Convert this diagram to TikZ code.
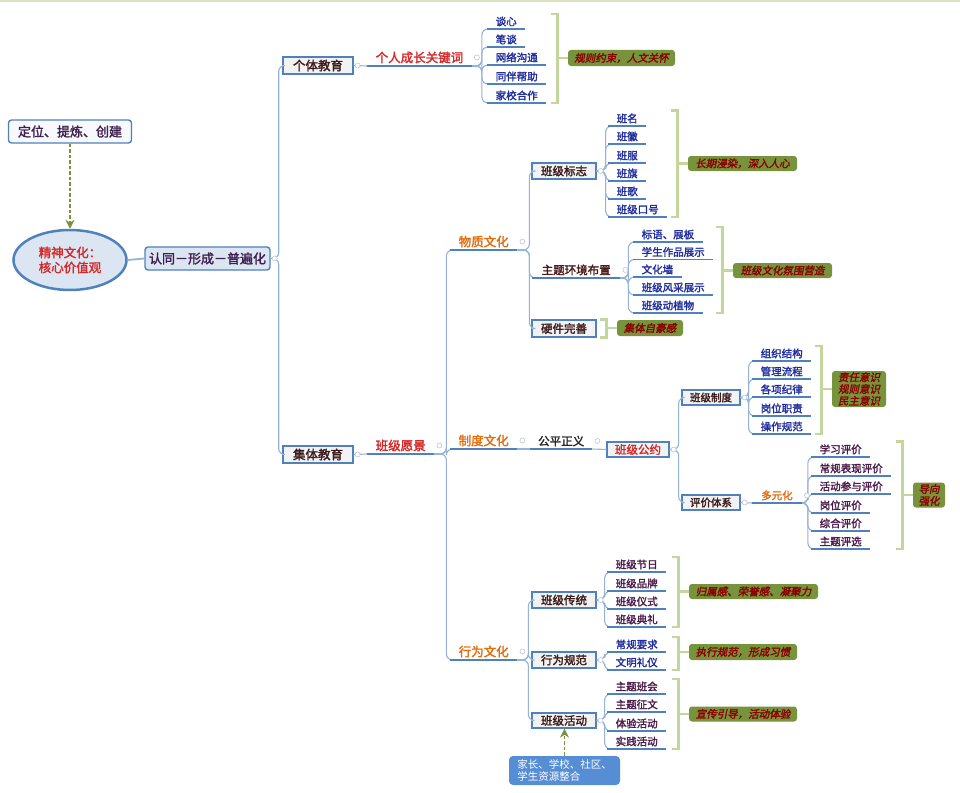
\documentclass[tikz,border=0pt]{standalone}
\usepackage{fontspec}
\setmainfont{Noto Sans CJK SC}[BoldFont={Noto Sans CJK SC},BoldFeatures={FakeBold=2},ItalicFont={Noto Sans CJK SC},ItalicFeatures={FakeSlant=0.2},BoldItalicFont={Noto Sans CJK SC},BoldItalicFeatures={FakeBold=2,FakeSlant=0.2}]
\usetikzlibrary{calc,shapes.geometric,arrows.meta}
\definecolor{boxc}{HTML}{4F81BD}
\definecolor{boxf}{HTML}{F2F2F2}
\definecolor{boxt}{HTML}{3B1A1A}
\definecolor{brc}{HTML}{95B3D7}
\definecolor{ulc}{HTML}{4F81BD}
\definecolor{brkc}{HTML}{C3D69B}
\definecolor{sumf}{HTML}{77933C}
\definecolor{sumt}{HTML}{8B0000}
\definecolor{redc}{HTML}{D62828}
\definecolor{orng}{HTML}{E46C0A}
\definecolor{blu}{HTML}{1F2D9E}
\definecolor{pur}{HTML}{4B1C4B}
\definecolor{marc}{HTML}{4A1A1A}
\definecolor{ellc}{HTML}{4F81BD}
\definecolor{ellf}{HTML}{DCE6F2}
\definecolor{lboxf}{HTML}{F7F9FC}
\definecolor{idnf}{HTML}{DCE6F2}
\definecolor{txtp}{HTML}{3F1F4F}
\definecolor{hintc}{HTML}{77933C}
\definecolor{jzc}{HTML}{558ED5}
\definecolor{topl}{HTML}{D7E4BD}
\definecolor{mkc}{HTML}{BFC7D5}
\newcommand{\fsz}[1]{\fontsize{#1}{13}\selectfont}
\newcommand{\drawbkt}[4]{%
  \coordinate (#1) at ($(#2.west)+(-10.5,0)$);
  \draw[brk] (#1 |- #3.north) ++(-6,0) -- (#1 |- #3.north) -- (#1 |- #4.south) -- ++(-6,0);
  \draw[brk] (#1) -- (#2.west);}
\begin{document}
\begin{tikzpicture}[x=1pt,y=-1pt,
  topic/.style={draw=boxc, line width=1.3pt, fill=boxf, inner sep=0pt, text=boxt, font=\fsz{11.5}\bfseries},
  lbox/.style={draw=boxc, line width=1.4pt, rounded corners=3pt, inner sep=0pt, text=txtp, font=\fsz{13}\bfseries},
  ul/.style={anchor=south west, inner xsep=8.5pt, inner ysep=2.5pt},
  hdr/.style={ul, font=\fsz{12.5}\bfseries},
  leafb/.style={ul, font=\fsz{10.5}\bfseries, text=blu},
  leafp/.style={ul, font=\fsz{10.5}\bfseries, text=pur},
  summ/.style={fill=sumf, rounded corners=3pt, text=sumt, font=\fsz{10.5}\bfseries\itshape, inner sep=0pt, align=center},
  br/.style={draw=brc, line width=1.1pt, rounded corners=6pt},
  ulst/.style={draw=ulc, line width=1.6pt},
  brk/.style={draw=brkc, line width=2.8pt},
  mk/.style={draw=mkc, fill=white, line width=0.6pt},
  hint/.style={draw=hintc, line width=1.6pt, dash pattern=on 3.5pt off 2pt, -{Stealth[length=9pt,width=9pt]}}
]
\fill[white] (0,0) rectangle (960,792);
\useasboundingbox (0,0) rectangle (960,792);
\draw[topl, line width=2pt] (0,1) -- (960,1);

% left column
\node[lbox, fill=lboxf, minimum width=123pt, minimum height=23pt] (pos) at (70,131.5) {定位、提炼、创建};
\node[ellipse, draw=ellc, line width=2.5pt, fill=ellf, inner sep=0pt, minimum width=113pt, minimum height=60pt, align=center, text=redc, font=\fontsize{12.5}{15}\selectfont\bfseries] (root) at (70,260) {精神文化：\\核心价值观};
\node[lbox, fill=idnf, minimum width=125pt, minimum height=23pt] (idn) at (207.5,258.5) {认同－形成－普遍化};
\draw[hint] (pos.south) -- (root.north);
\draw[brc, line width=1.8pt] (root.east) -- (idn.west);

% main boxes
\node[topic, font=\fsz{12.5}\bfseries, minimum width=70pt, minimum height=17pt] (geti) at (318,65.5) {个体教育};
\node[topic, font=\fsz{12.5}\bfseries, minimum width=70pt, minimum height=17pt] (jiti) at (318,454.5) {集体教育};
\draw[br] (idn.east) -- ++(8,0) |- (geti.west);
\draw[br] (idn.east) -- ++(8,0) |- (jiti.west);

% individual education
\node[hdr, text=redc] (kw) at (367,66) {个人成长关键词};
\node[leafb] (k1) at (487,29) {谈心};
\node[leafb] (k2) at (487,47) {笔谈};
\node[leafb] (k3) at (487,65) {网络沟通};
\node[leafb] (k4) at (487,84) {同伴帮助};
\node[leafb] (k5) at (487,103) {家校合作};
\node[summ, minimum width=107pt, minimum height=16pt] (s1) at (621.5,58) {规则约束，人文关怀};
\draw[br] (geti.east) -- (kw.south west);
\foreach \c in {k1,k2,k3,k4,k5} \draw[br] (kw.south east) -- ++(10,0) |- (\c.south west);
\drawbkt{q1}{s1}{k1}{k5}

% collective education
\node[hdr, text=redc] (yj) at (367,454) {班级愿景};
\node[hdr, text=orng] (wz) at (450,250) {物质文化};
\node[hdr, text=orng] (zd) at (450,449) {制度文化};
\node[hdr, text=orng] (xw) at (450,660) {行为文化};
\draw[br] (jiti.east) -- (yj.south west);
\foreach \c in {wz,zd,xw} \draw[br] (yj.south east) -- ++(12,0) |- (\c.south west);

% material culture
\node[topic, minimum width=64pt, minimum height=16pt] (bz) at (564,171) {班级标志};
\node[ul, font=\fsz{11.5}\bfseries, text=marc, inner xsep=9.5pt] (zt) at (532,278) {主题环境布置};
\node[topic, minimum width=64pt, minimum height=17pt] (yjw) at (564,328.5) {硬件完善};
\draw[br] (wz.south east) -- ++(12,0) |- (bz.west);
\draw[br] (wz.south east) -- ++(12,0) |- (zt.south west);
\draw[br] (wz.south east) -- ++(12,0) |- (yjw.west);

\node[leafb] (b1) at (608,126) {班名};
\node[leafb] (b2) at (608,144) {班徽};
\node[leafb] (b3) at (608,163) {班服};
\node[leafb] (b4) at (608,181) {班旗};
\node[leafb] (b5) at (608,199) {班歌};
\node[leafb] (b6) at (608,217) {班级口号};
\foreach \c in {b1,b2,b3,b4,b5,b6} \draw[br] (bz.east) -- ++(9,0) |- (\c.south west);
\node[summ, minimum width=109pt, minimum height=15pt] (s2) at (742.5,163.5) {长期浸染，深入人心};
\drawbkt{q2}{s2}{b1}{b6}

\node[leafb] (h1) at (633,242) {标语、展板};
\node[leafb] (h2) at (633,259.5) {学生作品展示};
\node[leafb] (h3) at (633,277) {文化墙};
\node[leafb] (h4) at (633,295) {班级风采展示};
\node[leafb] (h5) at (633,313) {班级动植物};
\foreach \c in {h1,h2,h3,h4,h5} \draw[br] (zt.south east) -- ++(8,0) |- (\c.south west);
\node[summ, minimum width=99pt, minimum height=15pt] (s3) at (782.5,270.5) {班级文化氛围营造};
\drawbkt{q3}{s3}{h1}{h5}

\node[summ, minimum width=66pt, minimum height=16pt] (s4) at (650,328) {集体自豪感};
\drawbkt{q4}{s4}{yjw}{yjw}

% institutional culture
\node[ul, font=\fsz{11.5}\bfseries, text=black!85, inner xsep=8pt] (gp) at (530,449) {公平正义};
\node[topic, text=redc, minimum width=62pt, minimum height=15pt] (gy) at (638,449.5) {班级公约};
\draw[br] (zd.south east) -- (gp.south west);
\draw[br] (gp.south east) -- (gy.west);
\node[topic, font=\fsz{10.5}\bfseries, minimum width=58pt, minimum height=15pt] (zdb) at (711,397.5) {班级制度};
\node[topic, font=\fsz{10.5}\bfseries, minimum width=58pt, minimum height=15pt] (pj) at (711,502.5) {评价体系};
\draw[br] (gy.east) -- ++(9,0) |- (zdb.west);
\draw[br] (gy.east) -- ++(9,0) |- (pj.west);

\node[leafb] (z1) at (752,361) {组织结构};
\node[leafb] (z2) at (752,379) {管理流程};
\node[leafb] (z3) at (752,397) {各项纪律};
\node[leafb] (z4) at (752,416) {岗位职责};
\node[leafb] (z5) at (752,434) {操作规范};
\foreach \c in {z1,z2,z3,z4,z5} \draw[br] (zdb.east) -- ++(8,0) |- (\c.south west);
\node[summ, font=\fontsize{10.5}{11.8}\selectfont\bfseries\itshape, minimum width=54pt, minimum height=36pt] (s5) at (859,389) {责任意识\\规则意识\\民主意识};
\drawbkt{q5}{s5}{z1}{z5}

\node[ul, font=\fsz{10.5}\bfseries, text=orng, inner xsep=9pt] (dy) at (752,503) {多元化};
\draw[br] (pj.east) -- (dy.south west);
\node[leafp] (p1) at (811,457) {学习评价};
\node[leafp] (p2) at (811,476) {常规表现评价};
\node[leafp] (p3) at (811,494) {活动参与评价};
\node[leafp] (p4) at (811,513) {岗位评价};
\node[leafp] (p5) at (811,531) {综合评价};
\node[leafp] (p6) at (811,549) {主题评选};
\foreach \c in {p1,p2,p3,p4,p5,p6} \draw[br] (dy.south east) -- ++(6,0) |- (\c.south west);
\node[summ, font=\fontsize{10.5}{12}\selectfont\bfseries\itshape, minimum width=32pt, minimum height=25pt] (s6) at (929,495) {导向\\强化};
\drawbkt{q6}{s6}{p1}{p6}

% behaviour culture
\node[topic, minimum width=64pt, minimum height=16pt] (ct) at (564,600) {班级传统};
\node[topic, minimum width=64pt, minimum height=16pt] (gf) at (564,660) {行为规范};
\node[topic, minimum width=64pt, minimum height=15pt] (hd) at (564,720.5) {班级活动};
\foreach \c in {ct,gf,hd} \draw[br] (xw.south east) -- ++(11,0) |- (\c.west);

\node[leafp] (t1) at (607,572) {班级节日};
\node[leafp] (t2) at (607,591) {班级品牌};
\node[leafp] (t3) at (607,609) {班级仪式};
\node[leafp] (t4) at (607,627) {班级典礼};
\foreach \c in {t1,t2,t3,t4} \draw[br] (ct.east) -- ++(8,0) |- (\c.south west);
\node[summ, minimum width=129pt, minimum height=15pt] (s7) at (753.5,591.5) {归属感、荣誉感、凝聚力};
\drawbkt{q7}{s7}{t1}{t4}

\node[leafb] (g1) at (607,652) {常规要求};
\node[leafb] (g2) at (607,670) {文明礼仪};
\foreach \c in {g1,g2} \draw[br] (gf.east) -- ++(8,0) |- (\c.south west);
\node[summ, minimum width=108pt, minimum height=16pt] (s8) at (743,652) {执行规范，形成习惯};
\drawbkt{q8}{s8}{g1}{g2}

\node[leafp] (a1) at (607,694) {主题班会};
\node[leafp] (a2) at (607,712) {主题征文};
\node[leafp] (a3) at (607,731) {体验活动};
\node[leafp] (a4) at (607,749) {实践活动};
\foreach \c in {a1,a2,a3,a4} \draw[br] (hd.east) -- ++(8,0) |- (\c.south west);
\node[summ, minimum width=108pt, minimum height=15pt] (s9) at (743,714) {宣传引导，活动体验};
\drawbkt{q9}{s9}{a1}{a4}

\node[fill=jzc, rounded corners=4pt, text=white, align=left, inner sep=0pt, font=\fontsize{10.5}{12}\selectfont, minimum width=111pt, minimum height=29pt] (jz) at (564.5,770.5) {家长、学校、社区、\\学生资源整合};
\draw[hint] (jz.north) -- (jz.north |- hd.south);

% underlines
\foreach \n in {kw,k1,k2,k3,k4,k5,yj,wz,zd,xw,zt,b1,b2,b3,b4,b5,b6,h1,h2,h3,h4,h5,gp,z1,z2,z3,z4,z5,dy,p1,p2,p3,p4,p5,p6,t1,t2,t3,t4,g1,g2,a1,a2,a3,a4}
  \draw[ulst] (\n.south west) -- (\n.south east);

% collapse markers
\foreach \n in {idn,geti,jiti,bz,gy,zdb,pj,ct,gf,hd}
  \draw[mk] ([xshift=4pt]\n.east) circle (2.5);
\foreach \n in {kw,yj,wz,zt,zd,gp,dy,xw}
  \draw[mk] ([xshift=5pt]\n.east) circle (2.5);
\end{tikzpicture}
\end{document}
